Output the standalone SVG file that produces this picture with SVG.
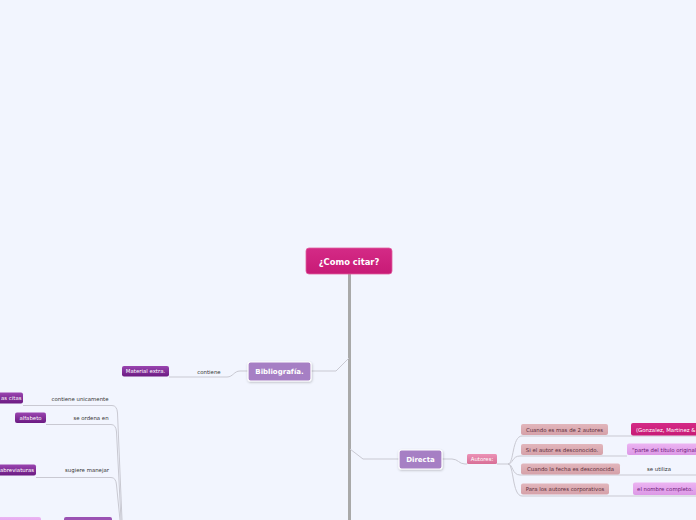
<svg xmlns="http://www.w3.org/2000/svg" width="696" height="520" viewBox="0 0 696 520">
<defs>
<linearGradient id="gPurple" x1="0" y1="0" x2="0" y2="1"><stop offset="0" stop-color="#9a45b0"/><stop offset="1" stop-color="#6b1a82"/></linearGradient>
<linearGradient id="gPink" x1="0" y1="0" x2="0" y2="1"><stop offset="0" stop-color="#ec92b6"/><stop offset="1" stop-color="#d86e96"/></linearGradient>
<linearGradient id="gDusty" x1="0" y1="0" x2="0" y2="1"><stop offset="0" stop-color="#e2b6bc"/><stop offset="1" stop-color="#d5a0a8"/></linearGradient>
<linearGradient id="gViolet" x1="0" y1="0" x2="0" y2="1"><stop offset="0" stop-color="#ecb4f2"/><stop offset="1" stop-color="#dc98e6"/></linearGradient>
<linearGradient id="gMag" x1="0" y1="0" x2="0" y2="1"><stop offset="0" stop-color="#d42a86"/><stop offset="1" stop-color="#c81a76"/></linearGradient>
<filter id="sh" x="-20%" y="-20%" width="140%" height="160%"><feDropShadow dx="0.5" dy="1" stdDeviation="0.8" flood-color="#000" flood-opacity="0.25"/></filter>
</defs>
<style>
.conn{fill:none;stroke:#c9c9d2;stroke-width:1}
.trunk{fill:none;stroke:#a9a9a9;stroke-width:3}
.t{font-family:"DejaVu Sans",Verdana,sans-serif}
.small{font-size:5.4px}
.main{fill:#a67fc4;stroke:#fff;stroke-width:1.2;filter:url(#sh)}
.mainT{font-size:7px;font-weight:bold;fill:#fff}
.purp{fill:url(#gPurple)}
.purpT{fill:#fff}
.dusty{fill:url(#gDusty)}
.dustyT{fill:#5b2f3c}
.viol{fill:url(#gViolet)}
.violT{fill:#6e1b78}
.lbl{fill:#333}
</style>
<rect width="696" height="520" fill="#f2f5fe"/>

<g id="connectors">
<path class="trunk" d="M349.5,274 V520"/>
<path class="conn" d="M311,371 H336 L349,358"/>
<path class="conn" d="M399,459 H363 L350,449"/>
<path class="conn" d="M169,377 H227 C233,377 234,371 240,371 H248"/>
<path class="conn" d="M442,459 H452 C458,459 459,464 465,464 H467"/>
<path class="conn" d="M497,464 H508"/>
<path class="conn" d="M508,464 C514,464 512,436 522,436 H696"/>
<path class="conn" d="M508,464 C513,464 512,456 520,456 H627"/>
<path class="conn" d="M508,464 C513,464 512,475 520,475 H696"/>
<path class="conn" d="M508,464 C514,464 512,496 522,496 H696"/>
<path class="conn" d="M23,405.5 H112 Q117,405.5 117.5,413 L122,520"/>
<path class="conn" d="M46,424.5 H111 Q116,424.5 116.5,432 L121,520"/>
<path class="conn" d="M36,477.5 H111 Q116,477.5 116.5,485 L120,520"/>
</g>

<g id="n-root">
<rect x="306" y="248" width="86" height="26" rx="3" fill="url(#gMag)" stroke="#e060a0" stroke-width="0.8"/>
<text class="t" x="349" y="264.5" text-anchor="middle" font-size="8.4" font-weight="bold" fill="#fff">¿Como citar?</text>
</g>

<g id="n-bibliografia">
<rect class="main" x="248" y="362" width="63" height="19" rx="2.5"/>
<text class="t mainT" x="279.5" y="374" text-anchor="middle">Bibliografía.</text>
</g>

<g id="n-material">
<rect class="purp" x="122" y="366" width="47" height="10.5" rx="2"/>
<text class="t small purpT" x="145.5" y="373.3" text-anchor="middle">Material extra.</text>
</g>
<g id="l-contiene"><text class="t small lbl" x="209" y="374" text-anchor="middle">contiene</text></g>

<g id="n-directa">
<rect class="main" x="399" y="450" width="43" height="19" rx="2.5"/>
<text class="t mainT" x="420.5" y="462" text-anchor="middle">Directa</text>
</g>

<g id="n-autores">
<rect x="467" y="454" width="30" height="10" rx="1.5" fill="url(#gPink)"/>
<text class="t small" x="482" y="461" text-anchor="middle" fill="#fff">Autores:</text>
</g>

<g id="n-r1">
<rect class="dusty" x="521" y="424" width="87" height="11" rx="2"/>
<text class="t small dustyT" x="564.5" y="431.6" text-anchor="middle">Cuando es mas de 2 autores</text>
</g>
<g id="n-r1b">
<rect x="631" y="423" width="70" height="12.5" rx="2" fill="url(#gMag)"/>
<text class="t small" x="636" y="431.5" fill="#fff">(Gonzalez, Martinez &amp;</text>
</g>

<g id="n-r2">
<rect class="dusty" x="521" y="444" width="82" height="11" rx="2"/>
<text class="t small dustyT" x="562" y="451.6" text-anchor="middle">Si el autor es desconocido.</text>
</g>
<g id="n-r2b">
<rect class="viol" x="627" y="443.5" width="74" height="11.5" rx="2"/>
<text class="t small violT" x="632" y="451.6">"parte del título original</text>
</g>

<g id="n-r3">
<rect class="dusty" x="521" y="463.5" width="99" height="11" rx="2"/>
<text class="t small dustyT" x="570.5" y="471.1" text-anchor="middle">Cuando la fecha es desconocida</text>
</g>
<g id="l-seutiliza"><text class="t small lbl" x="659" y="471" text-anchor="middle">se utiliza</text></g>

<g id="n-r4">
<rect class="dusty" x="521" y="483.5" width="88" height="11" rx="2"/>
<text class="t small dustyT" x="565" y="491.1" text-anchor="middle">Para los autores corporativos</text>
</g>
<g id="n-r4b">
<rect class="viol" x="633" y="482.5" width="64" height="12.5" rx="2"/>
<text class="t small violT" x="665" y="491" text-anchor="middle">el nombre completo.</text>
</g>

<g id="n-citas">
<rect class="purp" x="-10" y="392.5" width="33" height="11" rx="2"/>
<text class="t small purpT" x="1" y="400.2">as citas</text>
</g>
<g id="l-unicamente"><text class="t small lbl" x="80" y="401.2" text-anchor="middle">contiene unicamente</text></g>

<g id="n-alfabeto">
<rect class="purp" x="15" y="412.5" width="31" height="10.5" rx="2"/>
<text class="t small purpT" x="30.5" y="419.8" text-anchor="middle">alfabeto</text>
</g>
<g id="l-ordena"><text class="t small lbl" x="91" y="420.2" text-anchor="middle">se ordena en</text></g>

<g id="n-abreviaturas">
<rect class="purp" x="-6" y="464.5" width="42" height="11" rx="2"/>
<text class="t small purpT" x="0" y="472.2">abreviaturas</text>
</g>
<g id="l-sugiere"><text class="t small lbl" x="87" y="472.4" text-anchor="middle">sugiere manejar</text></g>

<g id="n-bottom1"><rect class="viol" x="-5" y="517" width="46" height="10" rx="2"/></g>
<g id="n-bottom2"><rect x="64" y="517" width="48" height="10" rx="2" fill="#9b52b3"/></g>
</svg>
